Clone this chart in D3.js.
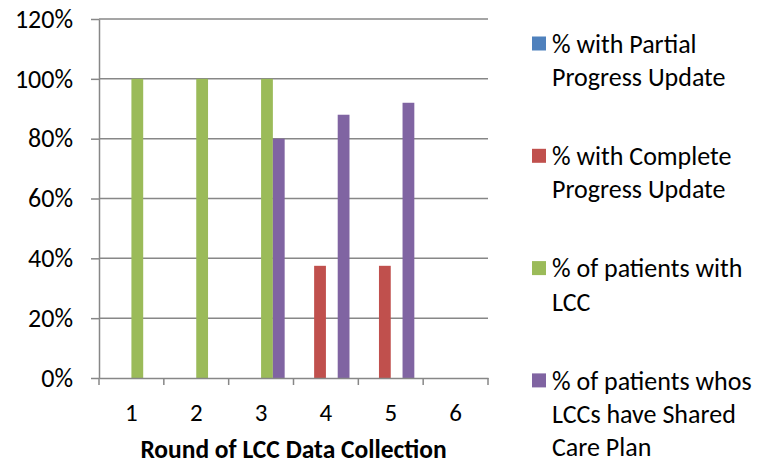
<!DOCTYPE html>
<html>
<head>
<meta charset="utf-8">
<script src="https://cdn.jsdelivr.net/npm/d3@7"></script>
<style>
  html, body { margin: 0; padding: 0; background: #fff; }
  svg { display: block; }
  text { font-family: Carlito, Lato, "Open Sans", sans-serif; fill: #000; }
</style>
</head>
<body>
<svg id="chart" width="762" height="463"></svg>
<script>
// Rounds of LCC data collection
const rounds = ["1", "2", "3", "4", "5", "6"];

// Series names (legend order) and their values per round
const seriesNames = [
  "% with Partial Progress Update",
  "% with Complete Progress Update",
  "% of patients with LCC",
  "% of patients whos LCCs have Shared Care Plan"
];
const partialUpdate  = [0, 0, 0, 0, 0, 0];
const completeUpdate = [0, 0, 0, 0.375, 0.375, 0];
const patientsWithLcc = [1, 1, 1, 0, 0, 0];
const sharedCarePlan = [0, 0, 0.8, 0.88, 0.92, 0];

// Legend text broken into lines
const legendLines = [
  ["% with Partial", "Progress Update"],
  ["% with Complete", "Progress Update"],
  ["% of patients with", "LCC"],
  ["% of patients whos", "LCCs have Shared", "Care Plan"]
];

const yTicks = [0, 0.2, 0.4, 0.6, 0.8, 1.0, 1.2];
const colors = ["#4F81BD", "#C0504D", "#9BBB59", "#8064A2"];
const seriesValues = [partialUpdate, completeUpdate, patientsWithLcc, sharedCarePlan];

const svg = d3.select("#chart");
const plot = { left: 99, right: 488, top: 19, bottom: 378 };
const gridColor = "#878787";
const fontStack = "Carlito, Lato, sans-serif";

const y = d3.scaleLinear().domain([0, 1.2]).range([plot.bottom, plot.top]);
const x0 = d3.scaleBand().domain(rounds).range([plot.left, plot.right]).padding(0);
const bw = x0.bandwidth();
const barW = bw / (seriesNames.length + 1.5);
const x1 = d3.scaleBand().domain(d3.range(seriesNames.length))
  .range([0.75 * barW, bw - 0.75 * barW]).padding(0);

// Horizontal gridlines
svg.append("g").selectAll("line").data(yTicks.slice(1)).join("line")
  .attr("x1", plot.left).attr("x2", plot.right)
  .attr("y1", d => y(d)).attr("y2", d => y(d))
  .attr("stroke", gridColor).attr("stroke-width", 1.5);

// Bars
const rows = rounds.map((r, i) => ({ round: r, values: seriesValues.map(s => s[i]) }));
const groups = svg.append("g").selectAll("g").data(rows).join("g")
  .attr("transform", d => `translate(${x0(d.round)},0)`);
groups.selectAll("rect")
  .data(d => d.values.map((v, k) => ({ k, v })).filter(e => e.v > 0))
  .join("rect")
  .attr("x", e => x1(e.k))
  .attr("width", x1.bandwidth())
  .attr("y", e => y(e.v))
  .attr("height", e => y(0) - y(e.v))
  .attr("fill", e => colors[e.k]);

// Y axis
const yAxis = svg.append("g").attr("transform", `translate(${plot.left},0)`)
  .call(d3.axisLeft(y).tickValues(yTicks).tickFormat(d3.format(".0%"))
    .tickSizeInner(8).tickSizeOuter(0).tickPadding(18));
yAxis.select(".domain").attr("stroke", gridColor).attr("stroke-width", 1.5);
yAxis.selectAll(".tick line").attr("stroke", gridColor).attr("stroke-width", 1.5);
yAxis.selectAll(".tick text").attr("font-size", 26).attr("fill", "#000")
  .style("font-family", fontStack);

// X axis: baseline, boundary ticks and centred round labels
const xAxis = svg.append("g").attr("transform", `translate(0,${plot.bottom})`)
  .call(d3.axisBottom(x0).tickSize(0).tickPadding(24));
xAxis.select(".domain").attr("stroke", gridColor).attr("stroke-width", 1.5);
xAxis.selectAll(".tick text").attr("font-size", 25).attr("fill", "#000")
  .style("font-family", fontStack)
  .attr("dy", "0.35em").attr("y", 34);
const bounds = rounds.map(r => x0(r)).concat([plot.right]);
xAxis.append("g").selectAll("line").data(bounds).join("line")
  .attr("x1", d => d).attr("x2", d => d)
  .attr("y1", 0).attr("y2", 7)
  .attr("stroke", gridColor).attr("stroke-width", 1.5);

// X axis title
svg.append("text")
  .attr("x", (plot.left + plot.right) / 2).attr("y", 449)
  .attr("text-anchor", "middle").attr("dy", "0.35em")
  .attr("font-size", 25.5).attr("font-weight", "bold")
  .text("Round of LCC Data Collection");

// Legend
const legendTop = 43.5, legendStep = 112.3, lineStep = 33.5;
const legend = svg.append("g").selectAll("g").data(seriesNames).join("g")
  .attr("transform", (d, i) => `translate(532,${legendTop + i * legendStep})`);
legend.append("rect")
  .attr("x", 0).attr("y", -7).attr("width", 14).attr("height", 14)
  .attr("fill", (d, i) => colors[i]);
legend.append("text")
  .attr("font-size", 26)
  .selectAll("tspan").data((d, i) => legendLines[i]).join("tspan")
  .attr("x", 20).attr("y", (d, j) => j * lineStep).attr("dy", "0.35em")
  .text(d => d);
</script>
</body>
</html>
